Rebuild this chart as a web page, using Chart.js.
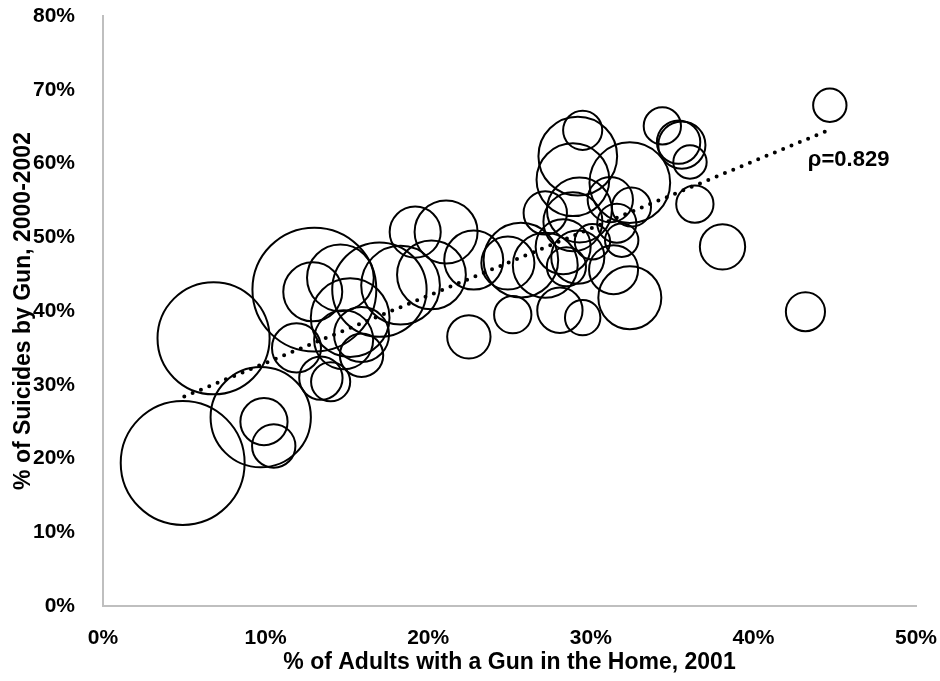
<!DOCTYPE html>
<html>
<head>
<meta charset="utf-8">
<script src="https://cdn.jsdelivr.net/npm/chart.js@4/dist/chart.umd.min.js"></script>
<style>
  html, body { margin: 0; padding: 0; background: #fff; }
  #wrap { width: 940px; height: 681px; position: relative; }
</style>
</head>
<body>
<div id="wrap"><canvas id="gunChart"></canvas></div>
<script>
// % of adults with a gun in the home, 2001 (x)
const gunOwnership = [
  4.9, 6.8, 9.7, 9.9, 10.5, 13.0, 12.9, 14.6, 17.0, 18.3,
  19.2, 21.1, 20.2, 22.8, 22.5, 25.2, 24.9, 25.7, 28.1, 29.5,
  28.3, 29.2, 29.2, 29.5, 32.4, 32.4, 31.4, 34.4, 35.4, 35.6,
  36.1, 36.4, 38.1, 43.2, 44.7, 32.5, 31.6, 28.9, 29.3, 31.2,
  28.9, 27.2, 30.1, 31.9, 27.2, 28.5, 15.2, 11.9, 13.4, 14.0,
  15.9, 15.9, 14.8
];
// % of suicides by gun, 2000-2002 (y)
const gunSuicides = [
  19.4, 36.3, 25.6, 25.0, 21.7, 42.9, 42.6, 44.5, 42.9, 43.5,
  50.7, 50.7, 44.9, 46.9, 36.5, 39.5, 46.5, 46.9, 40.1, 39.1,
  48.7, 47.3, 61.0, 64.5, 57.4, 41.8, 45.6, 65.1, 62.9, 62.5,
  60.2, 54.5, 48.7, 39.9, 67.9, 54.1, 51.9, 57.8, 53.7, 55.1,
  52.1, 53.3, 49.4, 49.6, 46.2, 46.0, 39.1, 35.0, 30.9, 30.4,
  36.8, 34.0, 36.1
];
// bubble size (relative)
const bubbleSize = [
  441, 361, 289, 64, 54, 441, 100, 128, 256, 178,
  75, 114, 136, 100, 54, 40, 81, 160, 59, 36,
  87, 81, 178, 44, 187, 114, 69, 40, 54, 64,
  32, 40, 59, 44, 32, 44, 44, 152, 121, 59,
  100, 54, 36, 32, 121, 44, 178, 69, 54, 44,
  87, 54, 100
];
// fitted trendline endpoints
const trendX = [5, 44.5];
const trendY = [28.4, 64.4];
const rhoLabel = 'ρ=0.829';

const FONT = "'Liberation Sans', Arial, sans-serif";

const bubbles = gunOwnership.map((x, i) => ({
  x: x,
  y: gunSuicides[i],
  r: Math.sqrt(bubbleSize[i]) * 2.95
}));
const trend = trendX.map((x, i) => ({ x: x, y: trendY[i] }));

const rhoPlugin = {
  id: 'rho',
  afterDatasetsDraw(chart) {
    const c = chart.ctx;
    const xs = chart.scales.x, ys = chart.scales.y;
    c.save();
    c.font = 'bold 22px ' + FONT;
    c.fillStyle = '#000';
    c.textAlign = 'left';
    c.textBaseline = 'middle';
    c.fillText(rhoLabel, xs.getPixelForValue(43.35), ys.getPixelForValue(60.5));
    c.restore();
  }
};

new Chart(document.getElementById('gunChart'), {
  type: 'bubble',
  data: {
    datasets: [{
      type: 'line',
      data: trend,
      borderColor: '#000',
      borderWidth: 4,
      borderDash: [0, 9],
      borderCapStyle: 'round',
      pointRadius: 0,
      fill: false,
      order: 0
    }, {
      data: bubbles,
      backgroundColor: 'rgba(255,255,255,0)',
      borderColor: '#000',
      borderWidth: 2,
      order: 1
    }]
  },
  options: {
    responsive: true,
    maintainAspectRatio: false,
    animation: false,
    layout: {
      autoPadding: false,
      padding: { left: 8, right: 24, top: 16, bottom: 3 }
    },
    plugins: {
      legend: { display: false },
      tooltip: { enabled: false }
    },
    scales: {
      x: {
        type: 'linear',
        min: 0,
        max: 50,
        grid: { display: false },
        border: { display: true, color: '#bfbfbf', width: 2 },
        ticks: {
          stepSize: 10,
          padding: 12,
          color: '#000',
          font: { family: FONT, size: 21, weight: 'bold' },
          callback: v => v + '%'
        },
        title: {
          display: true,
          text: '% of Adults with a Gun in the Home, 2001',
          color: '#000',
          font: { family: FONT, size: 23, weight: 'bold' },
          padding: { top: 2, bottom: 2 }
        },
        afterFit: s => {
          s.height = 72;
          s.paddingLeft = 0;
          s.paddingRight = 0;
        }
      },
      y: {
        type: 'linear',
        min: 0,
        max: 80,
        grid: { display: false },
        border: { display: true, color: '#bfbfbf', width: 2 },
        ticks: {
          stepSize: 10,
          padding: 20,
          color: '#000',
          font: { family: FONT, size: 21, weight: 'bold' },
          callback: v => v + '%'
        },
        title: {
          display: true,
          text: '% of Suicides by Gun, 2000-2002',
          color: '#000',
          font: { family: FONT, size: 23, weight: 'bold' },
          padding: { top: 2, bottom: 2 }
        },
        afterFit: s => {
          s.width = 95;
          s.paddingTop = 0;
          s.paddingBottom = 0;
        }
      }
    }
  },
  plugins: [rhoPlugin]
});
</script>
</body>
</html>
